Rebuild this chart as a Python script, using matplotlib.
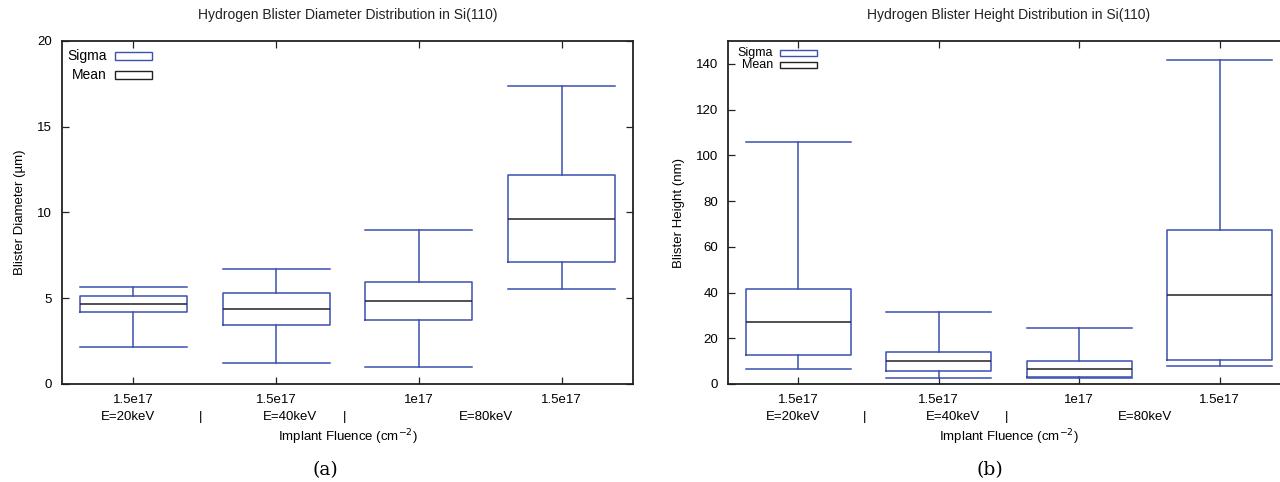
import matplotlib
matplotlib.use("Agg")
import matplotlib.pyplot as plt
from matplotlib.patches import Rectangle

plt.rcParams['font.family'] = ['Liberation Sans', 'DejaVu Sans']

# fluence labels and energy groups
fluence = ['1.5e17', '1.5e17', '1e17', '1.5e17']
energy_labels = ['E=20keV', '|', 'E=40keV', '|', 'E=80keV']
energy_pos = [0.96, 1.47, 2.10, 2.48, 3.47]

# blister diameter (um): mean, sigma, min, max
diam_mean = [4.67, 4.38, 4.83, 9.65]
diam_sigma = [0.49, 0.95, 1.09, 2.52]
diam_min = [2.17, 1.20, 0.99, 5.52]
diam_max = [5.64, 6.71, 9.00, 17.36]

# blister height (nm): mean, sigma, min, max
height_mean = [27.2, 9.9, 6.6, 39.0]
height_sigma = [14.4, 4.3, 3.4, 28.4]
height_min = [6.4, 2.8, 2.8, 7.7]
height_max = [105.8, 31.4, 24.6, 141.6]

BLUE = '#3c50b0'
DARK = '#222222'


def stats(mean, sigma, lo, hi):
    out = []
    for m, s, a, b in zip(mean, sigma, lo, hi):
        out.append(dict(med=m, q1=m - s, q3=m + s, whislo=a, whishi=b, fliers=[]))
    return out


def draw_panel(ax, st, title, ylabel, yticks, ylim, fs, key):
    pos = list(range(1, len(st) + 1))
    ax.bxp(st, positions=pos, widths=0.75, capwidths=0.75, showfliers=False,
           boxprops=dict(color=BLUE, lw=1.1),
           whiskerprops=dict(color=BLUE, lw=1.1),
           capprops=dict(color=BLUE, lw=1.1),
           medianprops=dict(color=DARK, lw=1.1))
    ax.set_xlim(0.5, 4.5)
    ax.set_ylim(*ylim)
    ax.set_xticks(pos)
    ax.set_xticklabels(fluence, fontsize=fs)
    ax.set_yticks(yticks)
    ax.set_yticklabels([str(t) for t in yticks], fontsize=fs)
    ax.tick_params(direction='in', length=5, width=0.9, top=True, right=True,
                   pad=7, color='#222222')
    for sp in ax.spines.values():
        sp.set_linewidth(1.3)
        sp.set_color('#222222')
    ax.set_title(title, fontsize=fs + 0.5, pad=16, color='#222222')
    ax.set_ylabel(ylabel, fontsize=fs, labelpad=8)
    for lab, x in zip(energy_labels, energy_pos):
        ax.text(x, -0.095, lab, transform=ax.get_xaxis_transform(),
                ha='center', va='center', fontsize=fs)
    ax.text(2.5, -0.155, 'Implant Fluence (cm$^{-2}$)', transform=ax.get_xaxis_transform(),
            ha='center', va='center', fontsize=fs)

    # key: open boxes with the series colour
    ys, box_h, text_x, box_x, box_w, kfs = key
    for (name, col), y in zip([('Sigma', BLUE), ('Mean', DARK)], ys):
        ax.text(text_x, y, name, transform=ax.transAxes, ha='right', va='center',
                fontsize=kfs)
        ax.add_patch(Rectangle((box_x, y - box_h / 2), box_w, box_h, transform=ax.transAxes,
                               fill=False, edgecolor=col, lw=1.0, clip_on=False))


fig = plt.figure(figsize=(12.8, 4.82), dpi=100)

ax1 = fig.add_axes([62 / 1280, 1 - 384 / 482, 571 / 1280, 343 / 482])
draw_panel(ax1, stats(diam_mean, diam_sigma, diam_min, diam_max),
           'Hydrogen Blister Diameter Distribution in Si(110)',
           'Blister Diameter (\u00b5m)', [0, 5, 10, 15, 20], (0, 20), 9.5,
           ([0.956, 0.901], 0.023, 0.079, 0.093, 0.065, 10))

ax2 = fig.add_axes([728 / 1280, 1 - 384 / 482, 562 / 1280, 343 / 482])
draw_panel(ax2, stats(height_mean, height_sigma, height_min, height_max),
           'Hydrogen Blister Height Distribution in Si(110)',
           'Blister Height (nm)', [0, 20, 40, 60, 80, 100, 120, 140], (0, 150), 9.5,
           ([0.965, 0.930], 0.018, 0.080, 0.0925, 0.066, 9))

fig.text(325 / 1280, 1 - 470 / 482, '(a)', family='DejaVu Serif', fontsize=13.5,
         ha='center', va='center')
fig.text(990 / 1280, 1 - 470 / 482, '(b)', family='DejaVu Serif', fontsize=13.5,
         ha='center', va='center')

fig.savefig('out.png', dpi=100)
